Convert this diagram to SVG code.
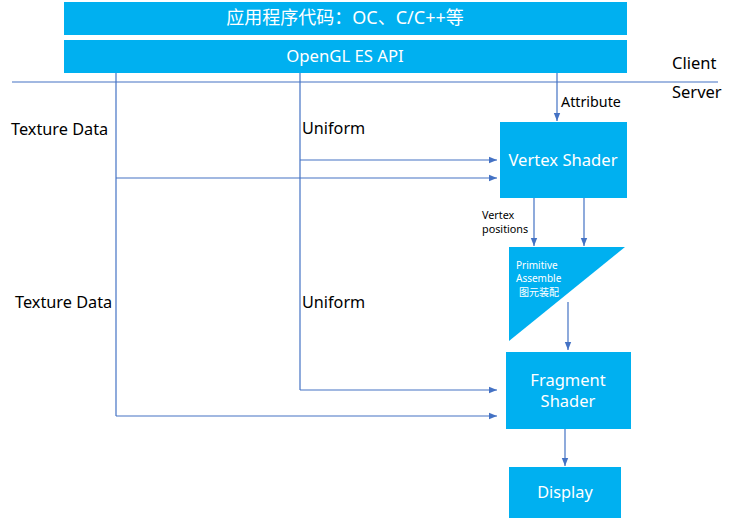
<svg xmlns="http://www.w3.org/2000/svg" width="733" height="518" viewBox="0 0 733 518">
<style>
.box{fill:#00B0F0}
.wt{fill:#fff;font-family:"Noto Sans","Noto Sans CJK SC",sans-serif}
.lb{fill:#000;font-family:"Noto Sans","Noto Sans CJK SC",sans-serif}
.ln{stroke:#4472C4;stroke-width:1.2;fill:none}
.ar{stroke:#4472C4;stroke-width:1.2;fill:none;marker-end:url(#ah)}
</style>
<defs>
<marker id="ah" viewBox="0 0 10 10" refX="10" refY="5" markerWidth="8" markerHeight="8" markerUnits="userSpaceOnUse" orient="auto">
<path d="M0,1 L10,5 L0,9 z" fill="#4472C4"/>
</marker>
</defs>
<rect width="733" height="518" fill="#fff"/>
<g id="app">
<rect class="box" x="64" y="2" width="563" height="33"/>
<text class="wt" x="345" y="24" font-size="18" text-anchor="middle">应用程序代码：OC、C/C++等</text>
</g>
<g id="api">
<rect class="box" x="64" y="40" width="563" height="33"/>
<text class="wt" x="345" y="62" font-size="16.7" text-anchor="middle">OpenGL ES API</text>
</g>
<g id="labels">
<text class="lb" x="672" y="69" font-size="16.5">Client</text>
<text class="lb" x="672" y="98" font-size="16.5">Server</text>
<text class="lb" x="561" y="107" font-size="14.3">Attribute</text>
<text class="lb" x="11" y="135" font-size="16.3">Texture Data</text>
<text class="lb" x="302" y="134" font-size="16.2">Uniform</text>
<text class="lb" x="15" y="308" font-size="16.3">Texture Data</text>
<text class="lb" x="302" y="308" font-size="16.2">Uniform</text>
<text class="lb" x="482" y="219" font-size="10.8">Vertex</text>
<text class="lb" x="482" y="233" font-size="10.8">positions</text>
</g>
<g id="vertex">
<rect class="box" x="500" y="122" width="127" height="76"/>
<text class="wt" x="563" y="166" font-size="16.6" text-anchor="middle">Vertex Shader</text>
</g>
<g id="primitive">
<polygon class="box" points="509,247 625,247 509,341"/>
<text class="wt" x="516" y="269" font-size="10">Primitive</text>
<text class="wt" x="516" y="282" font-size="10">Assemble</text>
<text class="wt" x="519" y="296" font-size="10">图元装配</text>
</g>
<g id="fragment">
<rect class="box" x="506" y="352" width="125" height="77"/>
<text class="wt" x="568" y="386" font-size="16.5" text-anchor="middle">Fragment</text>
<text class="wt" x="568" y="407" font-size="16.5" text-anchor="middle">Shader</text>
</g>
<g id="display">
<rect class="box" x="509" y="467" width="112" height="51"/>
<text class="wt" x="565" y="498" font-size="16.3" text-anchor="middle">Display</text>
</g>
<g id="connectors">
<line class="ln" x1="12" y1="82" x2="718" y2="82"/>
<line class="ln" x1="116" y1="73" x2="116" y2="416"/>
<line class="ln" x1="300" y1="73" x2="300" y2="390"/>
<line class="ar" x1="557" y1="73" x2="557" y2="121"/>
<line class="ar" x1="300" y1="160" x2="497" y2="160"/>
<line class="ar" x1="116" y1="178" x2="497" y2="178"/>
<line class="ar" x1="534" y1="198" x2="534" y2="246"/>
<line class="ar" x1="584" y1="198" x2="584" y2="246"/>
<line class="ar" x1="568" y1="302" x2="568" y2="350"/>
<line class="ar" x1="300" y1="390" x2="497" y2="390"/>
<line class="ar" x1="116" y1="416" x2="497" y2="416"/>
<line class="ar" x1="565" y1="429" x2="565" y2="466"/>
</g>
</svg>
